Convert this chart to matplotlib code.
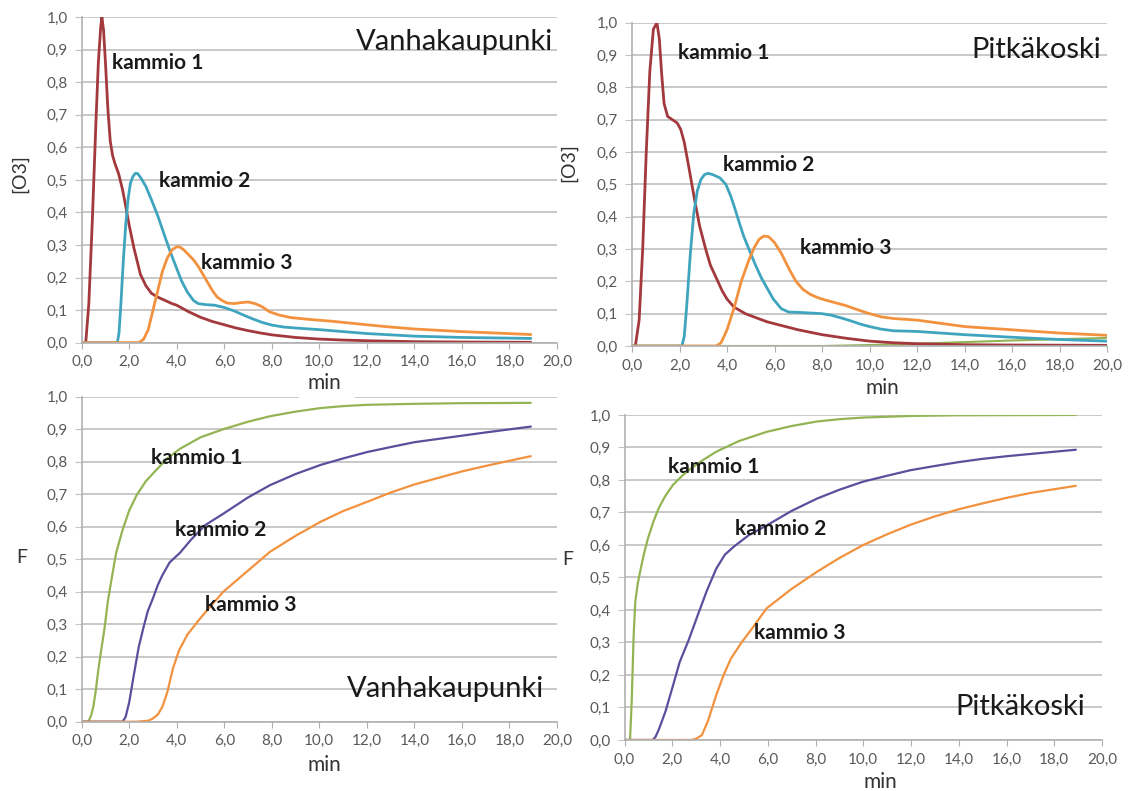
import matplotlib
matplotlib.use("Agg")
import matplotlib.pyplot as plt
from matplotlib.ticker import FuncFormatter
from matplotlib.patches import Rectangle

plt.rcParams['font.family'] = ['Lato', 'DejaVu Sans']

# ---------------- data ----------------
# [O3], Vanhakaupunki
va_k1_x = [0, 0.17, 0.3, 0.45, 0.6, 0.7, 0.8, 0.85, 0.92, 1.0, 1.1, 1.2, 1.3, 1.4, 1.55, 1.72, 1.85, 2.0, 2.2, 2.47, 2.7, 2.93, 3.2, 3.5, 3.8, 4.0, 4.5, 5.0, 5.5, 6.0, 6.5, 7.0, 7.5, 8.0, 9.0, 10.0, 11.0, 12.0, 14.0, 16.0, 18.9]
va_k1_y = [0, 0, 0.12, 0.38, 0.68, 0.86, 0.97, 1.0, 0.96, 0.86, 0.72, 0.62, 0.575, 0.55, 0.52, 0.47, 0.42, 0.36, 0.29, 0.21, 0.175, 0.152, 0.14, 0.13, 0.12, 0.115, 0.095, 0.078, 0.065, 0.055, 0.045, 0.037, 0.03, 0.024, 0.016, 0.011, 0.008, 0.006, 0.003, 0.002, 0.001]
va_k2_x = [0, 1.5, 1.57, 1.65, 1.75, 1.85, 1.95, 2.05, 2.15, 2.25, 2.35, 2.5, 2.7, 2.93, 3.2, 3.53, 3.75, 3.96, 4.2, 4.45, 4.7, 4.9, 5.2, 5.6, 6.0, 6.4, 6.8, 7.2, 7.6, 8.0, 8.5, 9.0, 10.0, 11.0, 12.0, 13.0, 14.0, 16.0, 18.9]
va_k2_y = [0, 0, 0.03, 0.12, 0.25, 0.36, 0.44, 0.49, 0.51, 0.52, 0.52, 0.505, 0.48, 0.44, 0.39, 0.32, 0.275, 0.235, 0.19, 0.155, 0.13, 0.12, 0.117, 0.115, 0.108, 0.098, 0.085, 0.073, 0.062, 0.054, 0.048, 0.045, 0.04, 0.034, 0.028, 0.024, 0.02, 0.016, 0.013]
va_k3_x = [0, 2.4, 2.6, 2.8, 3.0, 3.2, 3.4, 3.6, 3.8, 4.0, 4.15, 4.3, 4.5, 4.7, 4.9, 5.1, 5.3, 5.5, 5.7, 5.9, 6.1, 6.4, 6.7, 7.0, 7.3, 7.6, 7.9, 8.3, 8.8, 9.5, 10.5, 12.0, 13.0, 14.0, 16.0, 18.9]
va_k3_y = [0, 0, 0.01, 0.04, 0.1, 0.16, 0.22, 0.26, 0.285, 0.295, 0.293, 0.285, 0.27, 0.255, 0.235, 0.21, 0.185, 0.16, 0.14, 0.13, 0.122, 0.12, 0.123, 0.125, 0.12, 0.11, 0.095, 0.085, 0.077, 0.072, 0.066, 0.055, 0.048, 0.042, 0.034, 0.025]

# [O3], Pitkäkoski
pk_k1_x = [0, 0.14, 0.3, 0.45, 0.6, 0.75, 0.9, 1.05, 1.15, 1.25, 1.35, 1.5, 1.7, 1.9, 2.05, 2.2, 2.4, 2.64, 2.85, 3.1, 3.3, 3.55, 3.8, 4.0, 4.3, 4.77, 5.2, 5.68, 6.2, 7.0, 8.0, 9.0, 10.0, 11.0, 12.0, 14.0, 16.0, 20.0]
pk_k1_y = [0, 0, 0.08, 0.3, 0.6, 0.85, 0.98, 1.0, 0.95, 0.84, 0.75, 0.71, 0.7, 0.69, 0.67, 0.63, 0.55, 0.45, 0.37, 0.3, 0.25, 0.21, 0.17, 0.145, 0.12, 0.1, 0.088, 0.075, 0.065, 0.05, 0.035, 0.024, 0.015, 0.01, 0.007, 0.004, 0.003, 0.002]
pk_k2_x = [0, 2.1, 2.2, 2.3, 2.45, 2.6, 2.75, 2.9, 3.05, 3.2, 3.4, 3.7, 3.95, 4.15, 4.31, 4.5, 4.7, 4.92, 5.2, 5.45, 5.68, 5.95, 6.29, 6.6, 7.0, 7.5, 8.0, 8.4, 8.8, 9.2, 9.6, 10.0, 10.5, 11.0, 12.0, 13.0, 14.0, 16.0, 18.0, 20.0]
pk_k2_y = [0, 0, 0.03, 0.12, 0.28, 0.41, 0.48, 0.515, 0.53, 0.534, 0.53, 0.52, 0.5, 0.465, 0.43, 0.385, 0.34, 0.3, 0.25, 0.21, 0.18, 0.145, 0.115, 0.105, 0.104, 0.102, 0.1, 0.095, 0.087, 0.078, 0.068, 0.06, 0.052, 0.047, 0.045, 0.04, 0.035, 0.027, 0.02, 0.015]
pk_k3_x = [0, 3.55, 3.75, 4.0, 4.31, 4.6, 4.92, 5.15, 5.35, 5.55, 5.75, 6.0, 6.29, 6.6, 6.9, 7.2, 7.5, 7.8, 8.1, 8.4, 8.7, 9.0, 9.5, 10.0, 10.5, 11.0, 12.0, 13.0, 14.0, 15.0, 16.0, 18.0, 20.0]
pk_k3_y = [0, 0, 0.01, 0.05, 0.121, 0.2, 0.266, 0.305, 0.33, 0.34, 0.338, 0.32, 0.286, 0.24, 0.2, 0.175, 0.16, 0.15, 0.143, 0.137, 0.131, 0.125, 0.112, 0.1, 0.09, 0.085, 0.08, 0.07, 0.06, 0.055, 0.05, 0.04, 0.033]
pk_k4_x = [0, 8.0, 10.0, 12.0, 14.0, 16.0, 18.0, 20.0]
pk_k4_y = [0, 0, 0.003, 0.007, 0.012, 0.017, 0.021, 0.025]

# F, Vanhakaupunki
vf_k1_x = [0, 0.28, 0.4, 0.5, 0.6, 0.7, 0.8, 0.96, 1.1, 1.26, 1.45, 1.72, 2.0, 2.32, 2.7, 3.08, 3.6, 4.14, 5.0, 5.96, 7.0, 7.93, 9.0, 10.05, 11.0, 12.0, 14.0, 16.0, 18.9]
vf_k1_y = [0, 0, 0.02, 0.05, 0.1, 0.16, 0.21, 0.287, 0.37, 0.44, 0.52, 0.59, 0.65, 0.698, 0.74, 0.77, 0.81, 0.84, 0.875, 0.9, 0.923, 0.94, 0.954, 0.965, 0.971, 0.975, 0.978, 0.98, 0.981]
vf_k2_x = [0, 1.72, 1.85, 2.0, 2.17, 2.4, 2.6, 2.78, 3.0, 3.2, 3.39, 3.7, 4.14, 4.6, 5.2, 5.96, 7.0, 7.93, 9.0, 10.05, 11.0, 12.03, 13.0, 14.0, 15.0, 16.0, 17.0, 18.9]
vf_k2_y = [0, 0, 0.015, 0.06, 0.134, 0.23, 0.29, 0.34, 0.38, 0.42, 0.45, 0.49, 0.52, 0.56, 0.605, 0.64, 0.69, 0.728, 0.762, 0.79, 0.81, 0.83, 0.845, 0.86, 0.87, 0.88, 0.89, 0.908]
vf_k3_x = [0, 2.3, 2.8, 3.0, 3.2, 3.39, 3.6, 3.84, 4.1, 4.44, 4.9, 5.36, 5.96, 7.0, 7.93, 9.0, 10.05, 11.0, 12.03, 13.0, 14.0, 15.0, 16.0, 17.0, 18.9]
vf_k3_y = [0, 0, 0.003, 0.01, 0.022, 0.045, 0.09, 0.164, 0.22, 0.267, 0.31, 0.35, 0.4, 0.465, 0.523, 0.572, 0.615, 0.648, 0.677, 0.705, 0.73, 0.75, 0.77, 0.787, 0.817]

# F, Pitkäkoski
pf_k1_x = [0, 0.23, 0.3, 0.38, 0.45, 0.55, 0.68, 0.82, 0.98, 1.2, 1.43, 1.7, 2.03, 2.4, 2.79, 3.3, 3.84, 4.8, 5.95, 7.0, 8.07, 9.0, 10.0, 12.0, 14.0, 18.9]
pf_k1_y = [0, 0, 0.12, 0.32, 0.425, 0.48, 0.528, 0.575, 0.62, 0.67, 0.713, 0.75, 0.785, 0.812, 0.836, 0.862, 0.887, 0.92, 0.948, 0.966, 0.98, 0.987, 0.992, 0.997, 0.999, 1.0]
pf_k2_x = [0, 1.18, 1.3, 1.45, 1.71, 2.0, 2.31, 2.7, 3.07, 3.45, 3.84, 4.2, 4.58, 5.2, 5.95, 7.0, 8.07, 9.0, 10.0, 11.0, 11.97, 13.0, 14.0, 15.0, 16.0, 17.0, 18.9]
pf_k2_y = [0, 0, 0.01, 0.035, 0.087, 0.16, 0.24, 0.31, 0.385, 0.46, 0.527, 0.57, 0.595, 0.63, 0.66, 0.705, 0.743, 0.77, 0.795, 0.813, 0.83, 0.843, 0.855, 0.865, 0.873, 0.88, 0.893]
pf_k3_x = [0, 2.79, 3.0, 3.24, 3.5, 3.84, 4.15, 4.45, 4.9, 5.35, 5.95, 7.0, 8.07, 9.0, 10.0, 11.0, 11.97, 13.0, 14.0, 15.0, 16.0, 17.0, 18.9]
pf_k3_y = [0, 0, 0.004, 0.015, 0.06, 0.138, 0.2, 0.25, 0.3, 0.344, 0.405, 0.465, 0.518, 0.56, 0.6, 0.633, 0.662, 0.688, 0.71, 0.728, 0.745, 0.76, 0.782]

x_ticks = [0, 2, 4, 6, 8, 10, 12, 14, 16, 18, 20]
y_ticks = [0.0, 0.1, 0.2, 0.3, 0.4, 0.5, 0.6, 0.7, 0.8, 0.9, 1.0]

RED = '#A3393C'
TEAL = '#3FA5BE'
ORANGE = '#F2923F'
GREEN = '#94B454'
PURPLE = '#5B4E9C'
GRID = '#C4C4C4'
TICK_TXT = '#5a5a5a'
TXT = '#1a1a1a'

comma = FuncFormatter(lambda v, p: f"{v:.1f}".replace('.', ','))

fig = plt.figure(figsize=(11.3, 7.91), dpi=100)
fig.patch.set_facecolor('white')


def style_axes(ax):
    ax.set_xlim(0, 20)
    ax.set_ylim(0, 1.0)
    ax.set_xticks(x_ticks)
    ax.set_yticks(y_ticks)
    ax.xaxis.set_major_formatter(comma)
    ax.yaxis.set_major_formatter(comma)
    ax.grid(axis='y', color=GRID, linewidth=1.3)
    ax.set_axisbelow(True)
    for s in ('top', 'right'):
        ax.spines[s].set_visible(False)
    for s in ('left', 'bottom'):
        ax.spines[s].set_color('#B0B0B0')
        ax.spines[s].set_linewidth(1.2)
    ax.tick_params(axis='x', direction='out', length=4, color='#B0B0B0',
                   labelsize=11, labelcolor=TICK_TXT, pad=5)
    ax.tick_params(axis='y', direction='out', length=5, color=GRID,
                   labelsize=11, labelcolor=TICK_TXT, pad=5)


def label(ax, x, y, s):
    ax.text(x, y, s, fontsize=15, fontweight='bold', color=TXT,
            ha='left', va='center')


def axis_labels(ax, ytext, ypos, xpos, rot):
    ax.set_ylabel(ytext, fontsize=14, color='#333333', rotation=rot,
                  va='center', ha='center')
    ax.yaxis.set_label_coords(*ypos)
    ax.set_xlabel('min', fontsize=15, color='#333333', va='center')
    ax.xaxis.set_label_coords(*xpos)


def draw(ax, xs, ys, color, lw):
    ax.plot(xs, ys, color=color, lw=lw, solid_joinstyle='round',
            solid_capstyle='round')


# top-left: [O3], Vanhakaupunki
ax1 = fig.add_axes([0.0723, 0.5668, 0.4206, 0.4114])
style_axes(ax1)
draw(ax1, va_k1_x, va_k1_y, RED, 2.0)
draw(ax1, va_k2_x, va_k2_y, TEAL, 2.0)
draw(ax1, va_k3_x, va_k3_y, ORANGE, 2.0)
label(ax1, 1.27, 0.86, 'kammio 1')
label(ax1, 3.26, 0.496, 'kammio 2')
label(ax1, 5.03, 0.245, 'kammio 3')
ax1.text(19.85, 0.925, 'Vanhakaupunki', fontsize=21, ha='right', va='center', color=TXT)
axis_labels(ax1, '[O3]', (-0.130, 0.52), (0.51, -0.124), 90)

# top-right: [O3], Pitkäkoski
ax2 = fig.add_axes([0.5593, 0.5626, 0.4204, 0.4087])
style_axes(ax2)
draw(ax2, pk_k4_x, pk_k4_y, GREEN, 1.5)
draw(ax2, pk_k1_x, pk_k1_y, RED, 2.0)
draw(ax2, pk_k2_x, pk_k2_y, TEAL, 2.0)
draw(ax2, pk_k3_x, pk_k3_y, ORANGE, 2.0)
label(ax2, 1.94, 0.906, 'kammio 1')
label(ax2, 3.83, 0.56, 'kammio 2')
label(ax2, 7.08, 0.303, 'kammio 3')
ax2.text(19.75, 0.915, 'Pitkäkoski', fontsize=21, ha='right', va='center', color=TXT)
axis_labels(ax2, '[O3]', (-0.133, 0.566), (0.526, -0.13), 90)

# bottom-left: F, Vanhakaupunki
ax3 = fig.add_axes([0.0723, 0.0876, 0.4206, 0.4109])
style_axes(ax3)
draw(ax3, vf_k1_x, vf_k1_y, GREEN, 1.6)
draw(ax3, vf_k2_x, vf_k2_y, PURPLE, 1.6)
draw(ax3, vf_k3_x, vf_k3_y, ORANGE, 1.6)
label(ax3, 2.92, 0.81, 'kammio 1')
label(ax3, 3.93, 0.59, 'kammio 2')
label(ax3, 5.19, 0.36, 'kammio 3')
ax3.text(19.45, 0.10, 'Vanhakaupunki', fontsize=21, ha='right', va='center', color=TXT)
axis_labels(ax3, 'F', (-0.126, 0.504), (0.51, -0.133), 0)

# bottom-right: F, Pitkäkoski
ax4 = fig.add_axes([0.5527, 0.0645, 0.4226, 0.4109])
style_axes(ax4)
draw(ax4, pf_k1_x, pf_k1_y, GREEN, 1.6)
draw(ax4, pf_k2_x, pf_k2_y, PURPLE, 1.6)
draw(ax4, pf_k3_x, pf_k3_y, ORANGE, 1.6)
label(ax4, 1.82, 0.84, 'kammio 1')
label(ax4, 4.62, 0.65, 'kammio 2')
label(ax4, 5.41, 0.33, 'kammio 3')
ax4.text(19.3, 0.10, 'Pitkäkoski', fontsize=21, ha='right', va='center', color=TXT)
axis_labels(ax4, 'F', (-0.118, 0.554), (0.535, -0.13), 0)

# white strip over the lower left panel's top gridline, below the upper "min" label
fig.add_artist(Rectangle((299 / 1130, (791 - 400) / 791), 56 / 1130, 7 / 791,
                         transform=fig.transFigure, facecolor='white',
                         edgecolor='none', zorder=5))

fig.savefig('out.png', dpi=100, facecolor='white')
